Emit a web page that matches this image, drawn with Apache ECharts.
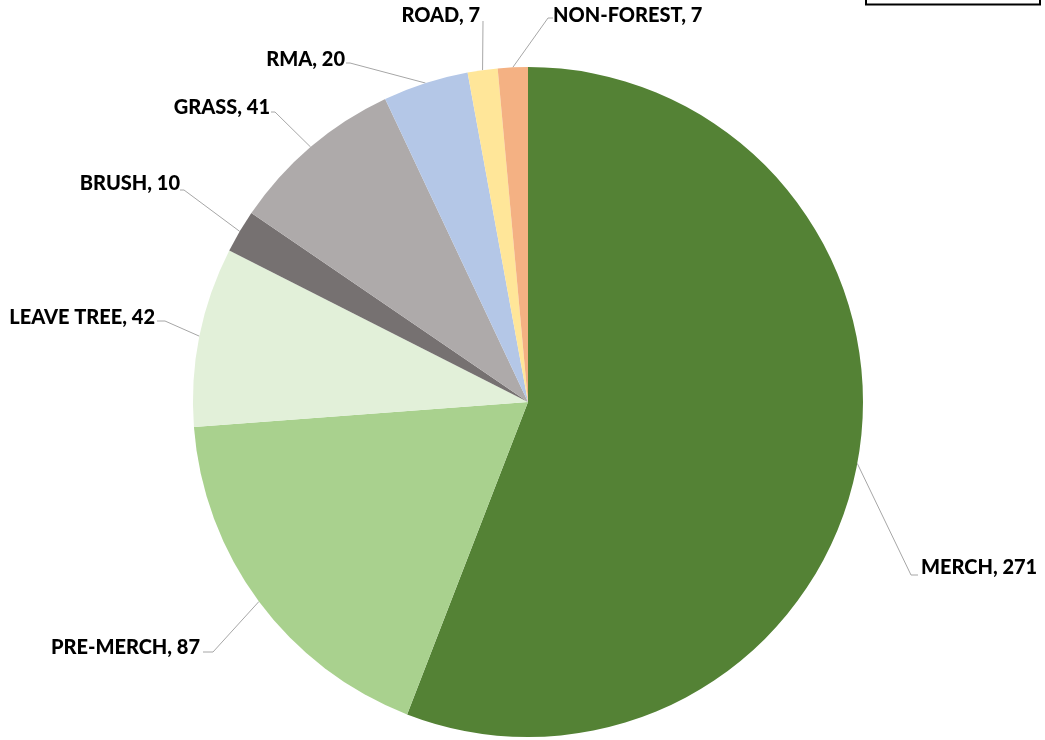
<!DOCTYPE html>
<html>
<head>
<meta charset="utf-8">
<script src="https://cdn.jsdelivr.net/npm/echarts@6/dist/echarts.min.js"></script>
<style>
  html, body { margin: 0; padding: 0; background: #fff; }
  #chart { width: 1045px; height: 740px; }
</style>
</head>
<body>
<div id="chart"></div>
<script>
// ---- data ----
var categories = ['MERCH', 'PRE-MERCH', 'LEAVE TREE', 'BRUSH', 'GRASS', 'RMA', 'ROAD', 'NON-FOREST'];
var values = [271, 87, 42, 10, 41, 20, 7, 7];
var colors = ['#548235', '#a9d18e', '#e2f0d9', '#767171', '#aeaaaa', '#b4c7e7', '#ffe699', '#f4b183'];

// ---- label placement (layout only) ----
// [x, y, align, elbowX, elbowY, endX]
var labelPlace = [
  [921, 568, 'left', 911, 575, 918],
  [200, 648, 'right', 213, 652, 203],
  [155, 318, 'right', 165, 321, 157],
  [180, 184, 'right', 184, 190, 180],
  [270, 108, 'right', 275, 112, 271],
  [345, 60, 'right', 350, 63, 346],
  [480, 16, 'right', 483, 21, 483],
  [553, 16, 'left', 548, 18, 553]
];

var chart = echarts.init(document.getElementById('chart'));
chart.setOption({
  animation: false,
  color: colors,
  graphic: [{
    type: 'polyline',
    shape: { points: [[866, 0], [866, 4.5], [1040, 4.5], [1040, 0]] },
    style: { stroke: '#000', lineWidth: 2, fill: null }
  }],
  series: [{
    type: 'pie',
    center: [528, 402],
    radius: [0, 335],
    startAngle: 90,
    clockwise: true,
    avoidLabelOverlap: false,
    data: categories.map(function (c, i) { return { name: c, value: values[i] }; }),
    itemStyle: { borderWidth: 0 },
    label: {
      show: true,
      position: 'outside',
      formatter: '{b}, {c}',
      fontFamily: 'Lato',
      fontWeight: 900,
      fontSize: 20,
      color: '#000'
    },
    labelLine: {
      show: true,
      length: 10,
      length2: 10,
      lineStyle: { color: '#a6a6a6', width: 1 }
    },
    labelLayout: function (params) {
      var p = labelPlace[params.dataIndex];
      var edge = params.labelLinePoints[0];
      return {
        x: p[0],
        y: p[1],
        align: p[2],
        verticalAlign: 'middle',
        labelLinePoints: [edge, [p[3], p[4]], [p[5], p[4]]]
      };
    }
  }]
});
</script>
</body>
</html>
